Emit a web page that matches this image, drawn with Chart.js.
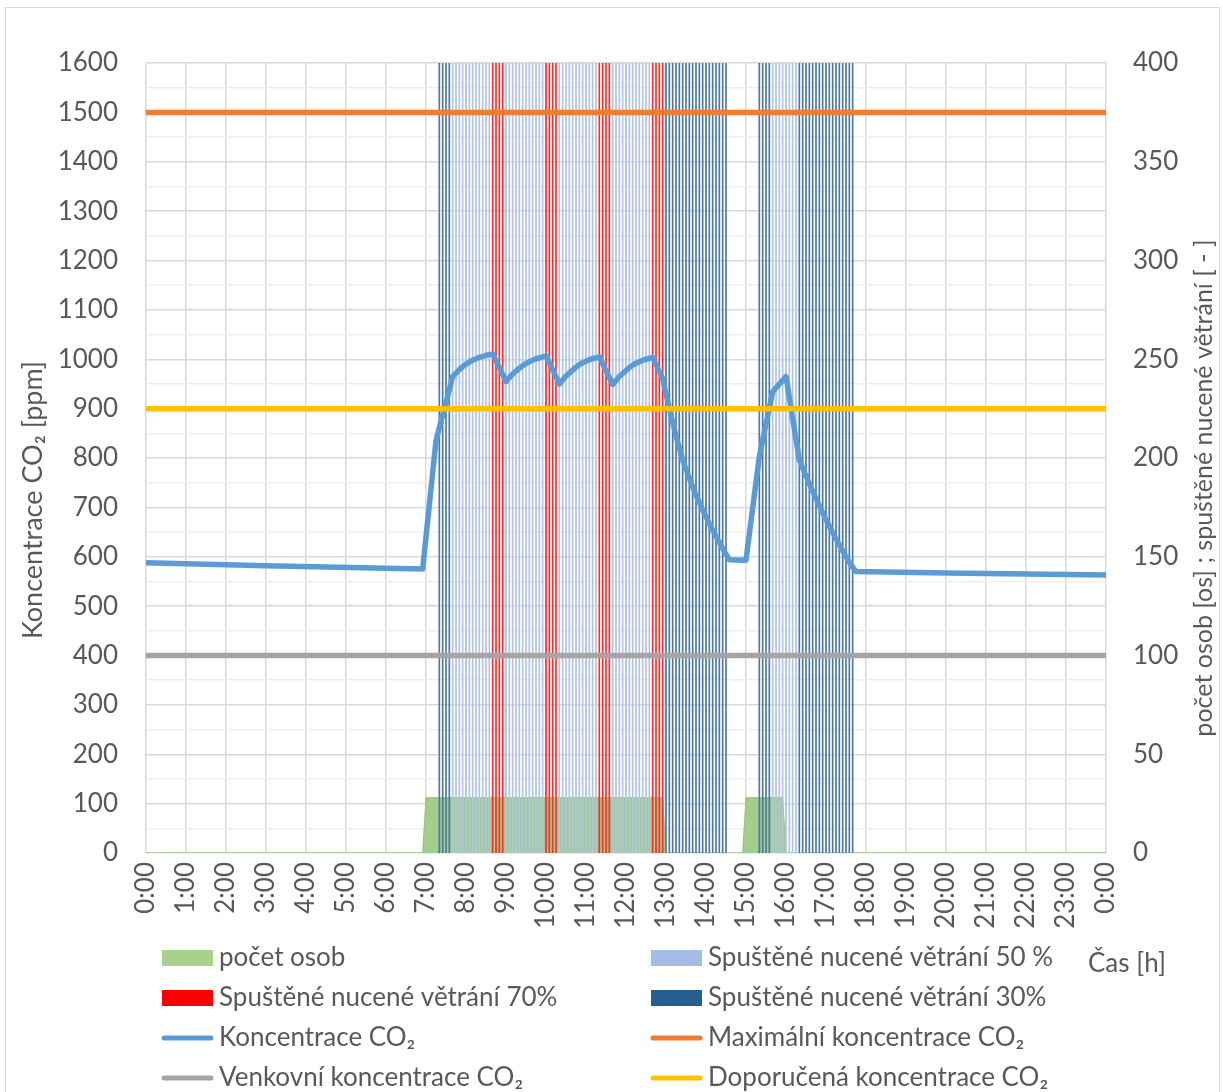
<!DOCTYPE html>
<html>
<head>
<meta charset="utf-8">
<script src="https://cdn.jsdelivr.net/npm/chart.js@4.4.1/dist/chart.umd.min.js"></script>
<style>
html,body{margin:0;padding:0;background:#fff;}
#wrap{position:relative;width:1223px;height:1092px;}
</style>
</head>
<body>
<div id="wrap"><canvas id="c" width="1223" height="1092"></canvas></div>
<script>
// ---------- DATA ----------
const xTickLabels = ['0:00','1:00','2:00','3:00','4:00','5:00','6:00','7:00','8:00','9:00','10:00','11:00','12:00',
  '13:00','14:00','15:00','16:00','17:00','18:00','19:00','20:00','21:00','22:00','23:00','0:00'];

const co2Times = ['0:00','3:00','6:55','7:00','7:05','7:10','7:15','7:20','7:25','7:30','7:35','7:40','7:45','7:50','7:55',
  '8:00','8:05','8:10','8:15','8:20','8:25','8:30','8:35','8:40','8:45','8:50','8:55',
  '9:00','9:05','9:10','9:15','9:20','9:25','9:30','9:35','9:40','9:45','9:50','9:55',
  '10:00','10:05','10:10','10:15','10:20','10:25','10:30','10:35','10:40','10:45','10:50','10:55',
  '11:00','11:05','11:10','11:15','11:20','11:25','11:30','11:35','11:40','11:45','11:50','11:55',
  '12:00','12:05','12:10','12:15','12:20','12:25','12:30','12:35','12:40','12:45','12:50','12:55',
  '13:00','13:05','13:10','13:15','13:20','13:25','13:30','13:35','13:40','13:45','13:50','13:55',
  '14:00','14:05','14:10','14:15','14:20','14:25','14:30','14:35','14:55',
  '15:00','15:05','15:10','15:15','15:20','15:25','15:30','15:35','15:40','15:45','15:50','15:55',
  '16:00','16:05','16:10','16:15','16:20','16:25','16:30','16:35','16:40','16:45','16:50','16:55',
  '17:00','17:05','17:10','17:15','17:20','17:25','17:30','17:35','17:40','17:45','20:00','24:00'];
const co2Values = [588,582,575,640,705,770,835,862,887,912,938,965,972,979,985,
  990,994,998,1001,1004,1006,1008,1009,1011,997,983,969,
  955,963,970,976,982,987,991,995,998,1001,1003,1005,
  1007,993,979,964,950,958,966,972,978,984,989,993,
  996,999,1001,1003,1005,991,977,963,949,957,965,971,
  977,983,988,992,995,998,1000,1002,1004,990,975,961,
  930,900,872,845,820,796,777,759,742,725,710,695,
  681,667,654,641,629,617,605,594,593,
  593,646,698,751,803,836,869,901,934,942,950,957,
  965,923,880,838,796,780,764,748,733,718,703,689,
  675,662,649,636,624,612,600,589,579,570,567,563];

const occTimes  = ['0:00','6:55','7:00','12:55','13:00','14:55','15:00','15:55','16:00','24:00'];
const occValues = [0,0,28,28,0,0,28,28,0,0];

const vent50Times = ['7:40','7:45','7:50','7:55','8:00','8:05','8:10','8:15','8:20','8:25','8:30','8:35',
  '9:00','9:05','9:10','9:15','9:20','9:25','9:30','9:35','9:40','9:45','9:50','9:55',
  '10:20','10:25','10:30','10:35','10:40','10:45','10:50','10:55','11:00','11:05','11:10','11:15',
  '11:40','11:45','11:50','11:55','12:00','12:05','12:10','12:15','12:20','12:25','12:30','12:35',
  '15:40','15:45','15:50','15:55','16:00','16:05','16:10','16:15'];
const vent70Times = ['8:40','8:45','8:50','8:55','10:00','10:05','10:10','10:15',
  '11:20','11:25','11:30','11:35','12:40','12:45','12:50','12:55'];
const vent30Times = ['7:20','7:25','7:30','7:35',
  '13:00','13:05','13:10','13:15','13:20','13:25','13:30','13:35','13:40','13:45','13:50','13:55',
  '14:00','14:05','14:10','14:15','14:20','14:25','14:30',
  '15:20','15:25','15:30','15:35',
  '16:20','16:25','16:30','16:35','16:40','16:45','16:50','16:55','17:00','17:05','17:10','17:15',
  '17:20','17:25','17:30','17:35','17:40'];
const VENT_ON = 400;

const limitTimes = ['0:00','24:00'];
const maxCO2Values = [1500,1500];
const outdoorCO2Values = [400,400];
const recommendedCO2Values = [900,900];

// ---------- HELPERS ----------
function toMin(t){ const p=t.split(':').map(Number); return p[0]*60+p[1]; }
function pts(times, vals){ return times.map((t,i)=>({x:toMin(t), y:vals[i]})); }
function bars(times){ return times.map(t=>({x:toMin(t), y:VENT_ON})); }

const FONT = 'Lato, "Open Sans", sans-serif';
const TXT = '#595959';
const FS = 26;

const decor = {
  id:'decor',
  afterDraw(chart){
    const ctx = chart.ctx;
    ctx.save();
    ctx.strokeStyle = '#D9D9D9'; ctx.lineWidth = 1;
    ctx.strokeRect(5.5, 7.5, 1214, 1090);
    ctx.fillStyle = TXT;
    ctx.textBaseline = 'middle';
    ctx.font = '27px ' + FONT;
    ctx.save(); ctx.translate(33, 500); ctx.rotate(-Math.PI/2);
    ctx.textAlign = 'center'; ctx.fillText('Koncentrace CO₂ [ppm]', 0, 0); ctx.restore();
    ctx.font = '25px ' + FONT;
    ctx.save(); ctx.translate(1204, 488); ctx.rotate(-Math.PI/2);
    ctx.textAlign = 'center'; ctx.fillText('počet osob [os] ; spuštěné nucené větrání [ - ]', 0, 0); ctx.restore();
    ctx.font = FS + 'px ' + FONT; ctx.textAlign = 'left';
    ctx.fillText('Čas [h]', 1088, 964);
    const ds = chart.data.datasets;
    const cols = [162, 651];
    const rows = [958, 998, 1038, 1078];
    ds.forEach((d, i) => {
      const x = cols[i % 2], y = rows[Math.floor(i / 2)];
      if (d.type === 'bar' || d.fill) {
        ctx.fillStyle = d.legendColor || d.backgroundColor;
        ctx.fillRect(x, y - 8, 51, 16);
      } else {
        ctx.strokeStyle = d.borderColor; ctx.lineWidth = 5; ctx.lineCap = 'round';
        ctx.beginPath(); ctx.moveTo(x + 2, y); ctx.lineTo(x + 49, y); ctx.stroke();
      }
      ctx.fillStyle = TXT; ctx.font = FS + 'px ' + FONT; ctx.textAlign = 'left';
      ctx.fillText(d.label, x + 57, y);
    });
    ctx.restore();
  }
};

const barCommon = {type:'bar', yAxisID:'y2', xAxisID:'x', barThickness:1, grouped:false, borderWidth:0};
const lineCommon = {type:'line', yAxisID:'y', xAxisID:'x', pointRadius:0, tension:0, borderWidth:5.5,
  borderJoinStyle:'round', borderCapStyle:'butt', fill:false};

new Chart(document.getElementById('c').getContext('2d'), {
  type:'line',
  data:{ datasets:[
    {type:'line', label:'počet osob', data:pts(occTimes, occValues), yAxisID:'y2', xAxisID:'x',
      fill:'origin', backgroundColor:'#A3CD8A', legendColor:'#A9D18E', borderColor:'#93C278', borderWidth:1,
      pointRadius:0, tension:0, order:10},
    Object.assign({}, barCommon, {label:'Spuštěné nucené větrání 50 %', data:bars(vent50Times),
      backgroundColor:'#AFC4E8', legendColor:'#A4BDE6', order:9}),
    Object.assign({}, barCommon, {label:'Spuštěné nucené větrání 70%', data:bars(vent70Times),
      backgroundColor:'#FF2A2A', legendColor:'#FF0000', order:8}),
    Object.assign({}, barCommon, {label:'Spuštěné nucené větrání 30%', data:bars(vent30Times),
      backgroundColor:'#4A78A5', legendColor:'#255E91', order:7}),
    Object.assign({}, lineCommon, {label:'Koncentrace CO₂', data:pts(co2Times, co2Values),
      borderColor:'#5B9BD5', order:4}),
    Object.assign({}, lineCommon, {label:'Maximální koncentrace CO₂', data:pts(limitTimes, maxCO2Values),
      borderColor:'#ED7D31', order:3}),
    Object.assign({}, lineCommon, {label:'Venkovní koncentrace CO₂', data:pts(limitTimes, outdoorCO2Values),
      borderColor:'#A5A5A5', order:2}),
    Object.assign({}, lineCommon, {label:'Doporučená koncentrace CO₂', data:pts(limitTimes, recommendedCO2Values),
      borderColor:'#FFC000', order:1})
  ]},
  options:{
    responsive:false, animation:false, parsing:true,
    layout:{padding:{top:63, left:0, right:0, bottom:0}},
    plugins:{legend:{display:false}, tooltip:{enabled:false}},
    scales:{
      x:{type:'linear', min:0, max:1440, offset:false,
        ticks:{stepSize:60, autoSkip:false, minRotation:90, maxRotation:90, padding:9,
          callback:(v)=>xTickLabels[Math.round(v/60)], font:{family:FONT, size:FS}, color:TXT},
        grid:{color:'#D9D9D9', lineWidth:1.5, drawTicks:false, offset:false},
        border:{display:false},
        afterFit:(s)=>{s.height=239;}},
      y:{position:'left', min:0, max:1600,
        ticks:{stepSize:50, autoSkip:false, padding:28, font:{family:FONT, size:FS}, color:TXT,
          callback:(v)=> v % 100 === 0 ? String(v) : ''},
        grid:{color:(c)=> (c.tick && c.tick.value % 100 === 0) ? '#D9D9D9' : '#EFEFEF', lineWidth:1.5, drawTicks:false},
        border:{display:false},
        afterFit:(s)=>{s.width=146;}},
      y2:{position:'right', min:0, max:400,
        ticks:{stepSize:50, autoSkip:false, padding:27, font:{family:FONT, size:FS}, color:TXT},
        grid:{display:false, drawTicks:false},
        border:{display:false},
        afterFit:(s)=>{s.width=117;}}
    }
  },
  plugins:[decor]
});
</script>
</body>
</html>
